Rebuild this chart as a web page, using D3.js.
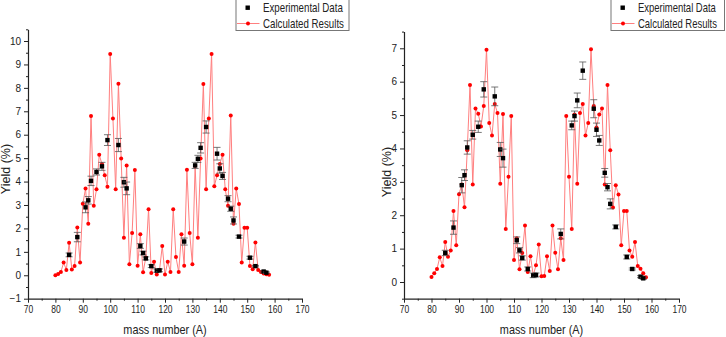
<!DOCTYPE html>
<html>
<head>
<meta charset="utf-8">
<script src="https://cdn.jsdelivr.net/npm/d3@7/dist/d3.min.js"></script>
<style>
  html, body { margin: 0; padding: 0; background: #fff; }
  svg { display: block; font-family: "Liberation Sans", Arial, sans-serif; }
</style>
</head>
<body>
<svg id="chart" width="726" height="337"></svg>
<script>
// ---------------- DATA ----------------
const massNumbers = [80,81,82,83,84,85,86,87,88,89,90,91,92,93,94,95,96,97,98,99,
  100,101,102,103,104,105,106,107,108,109,110,111,112,113,114,115,116,117,118,119,
  120,121,122,123,124,125,126,127,128,129,130,131,132,133,134,135,136,137,138,139,
  140,141,142,143,144,145,146,147,148,149,150,151,152,153,154,155,156,157,158];

const calcLeft = [0.0,0.05,0.14,0.54,0.23,1.39,0.25,0.4,2.04,0.54,
  3.05,3.7,2.2,6.8,2.97,3.67,5.14,4.75,4.27,3.78,
  9.45,6.69,3.67,8.18,4.98,1.6,4.69,0.47,1.8,4.49,
  0.41,1.75,0.13,0.76,2.82,0.1,0.58,0.03,0.22,1.25,
  0.03,0.58,0.14,2.82,0.78,0.14,1.75,0.41,4.5,1.8,
  0.47,4.68,1.6,4.99,8.17,3.67,6.69,9.45,3.8,4.27,
  4.75,5.14,3.67,2.97,6.82,2.2,3.7,3.04,0.54,2.03,
  2.03,0.4,0.26,1.4,0.23,0.14,0.08,0.04,0.02];

const calcRight = [0.15,0.26,0.39,0.74,0.48,1.2,0.76,0.94,2.13,1.1,
  2.63,2.92,2.24,3.95,5.9,2.92,5.2,5.04,4.66,5.27,
  6.96,4.76,4.39,5.33,5.06,2.94,5.03,1.59,3.15,4.97,
  0.66,1.31,0.38,0.87,1.69,0.3,0.77,0.2,0.5,1.12,
  0.17,0.18,0.77,0.33,1.69,0.88,0.38,1.31,0.66,4.97,
  3.15,1.59,5.02,2.94,5.06,5.33,4.39,4.76,6.97,5.27,
  4.63,5.02,5.2,2.92,5.9,3.95,2.23,2.9,2.62,1.1,
  2.13,2.13,0.94,0.76,1.2,0.48,0.4,0.26,0.14];

const expMass  = [85,88,91,92,93,95,97,99,103,105,106,111,112,113,115,117,118,
  127,131,132,133,135,139,140,141,143,144,145,147,151,153,156,157];
const expYield = [0.87,1.63,2.9,3.2,4.03,4.41,4.65,5.77,5.56,3.97,3.71,1.25,0.95,0.72,0.39,0.2,0.21,
  1.44,4.69,4.97,5.44,6.33,5.19,4.56,4.24,3.27,2.84,2.34,1.65,0.75,0.39,0.16,0.11];
const expError = [0.08,0.2,0.23,0.16,0.2,0.13,0.17,0.23,0.28,0.21,0.27,0.1,0.08,0.065,0.06,0.07,0.06,
  0.15,0.13,0.15,0.22,0.26,0.27,0.2,0.15,0.13,0.11,0.15,0.06,0.06,0.03,0.03,0.03];

const xTicks = [70,80,90,100,110,120,130,140,150,160,170];
const yTicksLeft = [-1,0,1,2,3,4,5,6,7,8,9,10];
const yTicksRight = [0,1,2,3,4,5,6,7];
const legendLabels = ["Experimental Data", "Calculated Results"];
const xTitle = "mass number (A)";
const yTitle = "Yield (%)";

// ---------------- DRAW ----------------
const svg = d3.select("#chart");

function drawPanel(cfg) {
  const g = svg.append("g");
  const x = d3.scaleLinear().domain([70, 170]).range([cfg.x0, cfg.x1]);
  const y = d3.scaleLinear().domain(cfg.yDomain).range([298.7, cfg.yTop]);

  const xMinor = d3.range(75, 170, 10);
  const yMinor = d3.range(cfg.yDomain[0] + (cfg.yDomain[0] % 1 === 0 ? 0.5 : 0), cfg.yDomain[1] + 0.01, 1);

  const xAxis = g.append("g").attr("transform", `translate(0,${y(cfg.yDomain[0])})`)
    .call(d3.axisBottom(x).tickValues(xTicks).tickSize(4).tickSizeOuter(0).tickPadding(3).tickFormat(d3.format("d")));
  g.append("g").attr("transform", `translate(0,${y(cfg.yDomain[0])})`)
    .call(d3.axisBottom(x).tickValues(xMinor).tickSize(2).tickSizeOuter(0).tickFormat(""))
    .select(".domain").remove();
  g.append("g").attr("transform", `translate(${cfg.x0},0)`)
    .call(d3.axisLeft(y).tickValues(cfg.yTicks).tickSize(4).tickSizeOuter(0).tickPadding(3).tickFormat(d3.format("d")));
  g.append("g").attr("transform", `translate(${cfg.x0},0)`)
    .call(d3.axisLeft(y).tickValues(yMinor).tickSize(2).tickSizeOuter(0).tickFormat(""))
    .select(".domain").remove();

  g.selectAll(".domain").attr("stroke", "#222").attr("stroke-width", 1.2);
  g.selectAll(".tick line").attr("stroke", "#222");
  g.selectAll(".tick text").attr("font-size", 10).attr("fill", "#222")
    .attr("font-family", "Liberation Sans, Arial, sans-serif");
  xAxis.selectAll(".tick text").attr("transform", "scale(0.85,1)");

  g.append("text")
    .attr("transform", `translate(${(cfg.x0 + cfg.x1) / 2},334) scale(0.87,1)`)
    .attr("text-anchor", "middle").attr("font-size", 12.5).attr("fill", "#222").text(xTitle);
  g.append("text")
    .attr("transform", `translate(${cfg.yTitleX},${cfg.yTitleY}) rotate(-90)`)
    .attr("text-anchor", "middle").attr("font-size", 12.5).attr("fill", "#222").text(yTitle);

  const line = d3.line().x((d, i) => x(massNumbers[i])).y(d => y(d));
  g.append("path").datum(cfg.calc).attr("d", line)
    .attr("fill", "none").attr("stroke", "#ff7f7f").attr("stroke-width", 1);
  g.append("g").selectAll("circle").data(cfg.calc).join("circle")
    .attr("cx", (d, i) => x(massNumbers[i])).attr("cy", d => y(d))
    .attr("r", 2).attr("fill", "#ff0000");

  const eg = g.append("g");
  expMass.forEach((m, i) => {
    const cx = x(m), top = y(expYield[i] + expError[i]), bot = y(expYield[i] - expError[i]);
    eg.append("line").attr("x1", cx).attr("x2", cx).attr("y1", top).attr("y2", bot)
      .attr("stroke", "#555").attr("stroke-width", 0.8);
    [top, bot].forEach(yy => eg.append("line").attr("x1", cx - 3.5).attr("x2", cx + 3.5)
      .attr("y1", yy).attr("y2", yy).attr("stroke", "#555").attr("stroke-width", 0.8));
    eg.append("rect").attr("x", cx - 2.2).attr("y", y(expYield[i]) - 2.2)
      .attr("width", 4.4).attr("height", 4.4).attr("fill", "#000");
  });

  const lg = g.append("g").attr("transform", `translate(${cfg.legX},0)`);
  lg.append("rect").attr("x", 0.5).attr("y", -0.5).attr("width", cfg.legW).attr("height", 31)
    .attr("fill", "#fff").attr("stroke", "#777").attr("stroke-width", 1);
  lg.append("rect").attr("x", 10).attr("y", 5.5).attr("width", 4.4).attr("height", 4.4).attr("fill", "#000");
  lg.append("line").attr("x1", 1.5).attr("x2", 24).attr("y1", 23.5).attr("y2", 23.5)
    .attr("stroke", "#ff7f7f").attr("stroke-width", 1);
  lg.append("circle").attr("cx", 12.5).attr("cy", 23.5).attr("r", 2).attr("fill", "#ff0000");
  legendLabels.forEach((t, i) => {
    lg.append("text")
      .attr("transform", `translate(27.5,${11.5 + i * 16}) scale(${cfg.textScale},1)`)
      .attr("font-size", 12).attr("fill", "#222").text(t);
  });
}

drawPanel({ x0: 28, x1: 302, yDomain: [-1, 10.5], yTop: 29.3, yTicks: yTicksLeft,
  calc: calcLeft, yTitleX: 9.5, yTitleY: 169, legX: 235.5, legW: 113, textScale: 0.81 });
drawPanel({ x0: 404, x1: 679, yDomain: [-0.5, 7.5], yTop: 31.6, yTicks: yTicksRight,
  calc: calcRight, yTitleX: 391, yTitleY: 172, legX: 610.5, legW: 113.5, textScale: 0.79 });
</script>
</body>
</html>
